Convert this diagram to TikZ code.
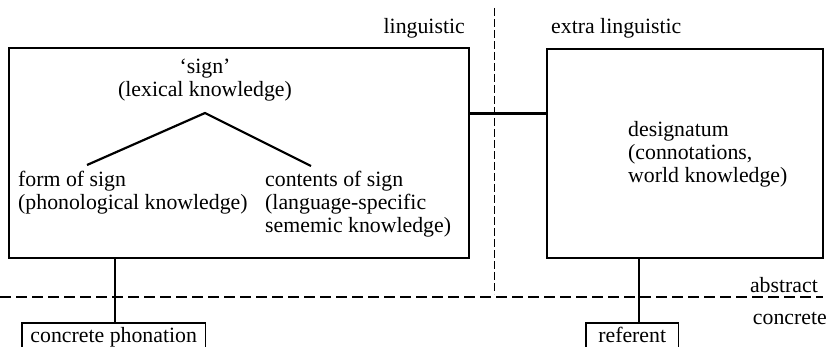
\documentclass[tikz,border=0pt]{standalone}
\usepackage{fontspec}
\setmainfont{Liberation Serif}
\begin{document}
\begin{tikzpicture}[x=1pt,y=-1pt,
  every node/.style={font=\fontsize{21.8}{23}\selectfont, inner sep=0pt},
  bigbox/.style={draw, line width=1.3pt},
  thick line/.style={line width=2.8pt},
  dashline/.style={line width=1.3pt, dash pattern=on 11pt off 5pt},
  vdashline/.style={line width=1pt, dash pattern=on 8pt off 3pt},
  txt/.style={align=left, anchor=base west}]
\useasboundingbox (0,0) rectangle (832,347);
% boxes
\node[bigbox, minimum width=460pt, minimum height=210pt] (lbox) at (239,153) {};
\node[bigbox, minimum width=276pt, minimum height=209pt] (rbox) at (685,153.5) {};
% dashed lines
\coordinate (vtop) at (494,8);
\coordinate (vbot) at (494,294);
\draw[vdashline] (vtop) -- (vbot);
\coordinate (hl) at (0,297);
\coordinate (hr) at (823,297);
\draw[dashline] (hl) -- (hr);
% labels
\node[anchor=base east] (ling) at (465,34) {linguistic};
\node[anchor=base west] (eling) at (551,34) {extra linguistic};
\node[anchor=base east] (abs) at (818,292) {abstract};
\node[anchor=base east] (conc) at (827,324) {concrete};
% tree
\node[align=center, anchor=base] (sign) at (205,97) {`sign'\\(lexical knowledge)};
\coordinate (apex) at (205,113);
\coordinate (lend) at (87,165);
\coordinate (rend) at (311,166);
\draw[line width=2.2pt] (lend) -- (apex) -- (rend);
\node[txt] (form) at (18,210) {form of sign\\(phonological knowledge)};
\node[txt] (cont) at (265,233) {contents of sign\\(language-specific\\sememic knowledge)};
\node[txt] (des) at (628,183) {designatum\\(connotations,\\world knowledge)};
% connector between boxes
\draw[thick line] (lbox.north east) ++(0,66) coordinate (cl) -- (cl -| rbox.west);
% bottom boxes (open at bottom)
\node[minimum width=183pt, minimum height=28pt, anchor=north west] (phon) at (22,323) {};
\node[anchor=base] (phont) at (phon.north |- 0,342) {concrete phonation};
\draw[line width=1.3pt] (phon.south west) -- (phon.north west) -- (phon.north east) -- (phon.south east);
\node[minimum width=92pt, minimum height=28pt, anchor=north west] (ref) at (586,323) {};
\node[anchor=base] (reft) at (ref.north |- 0,342) {referent};
\draw[line width=1.3pt] (ref.south west) -- (ref.north west) -- (ref.north east) -- (ref.south east);
% vertical connectors
\draw[thick line] (lbox.south -| 115,0) -- (phon.north -| 115,0);
\draw[thick line] (rbox.south -| 639,0) -- (ref.north -| 639,0);
\end{tikzpicture}
\end{document}
